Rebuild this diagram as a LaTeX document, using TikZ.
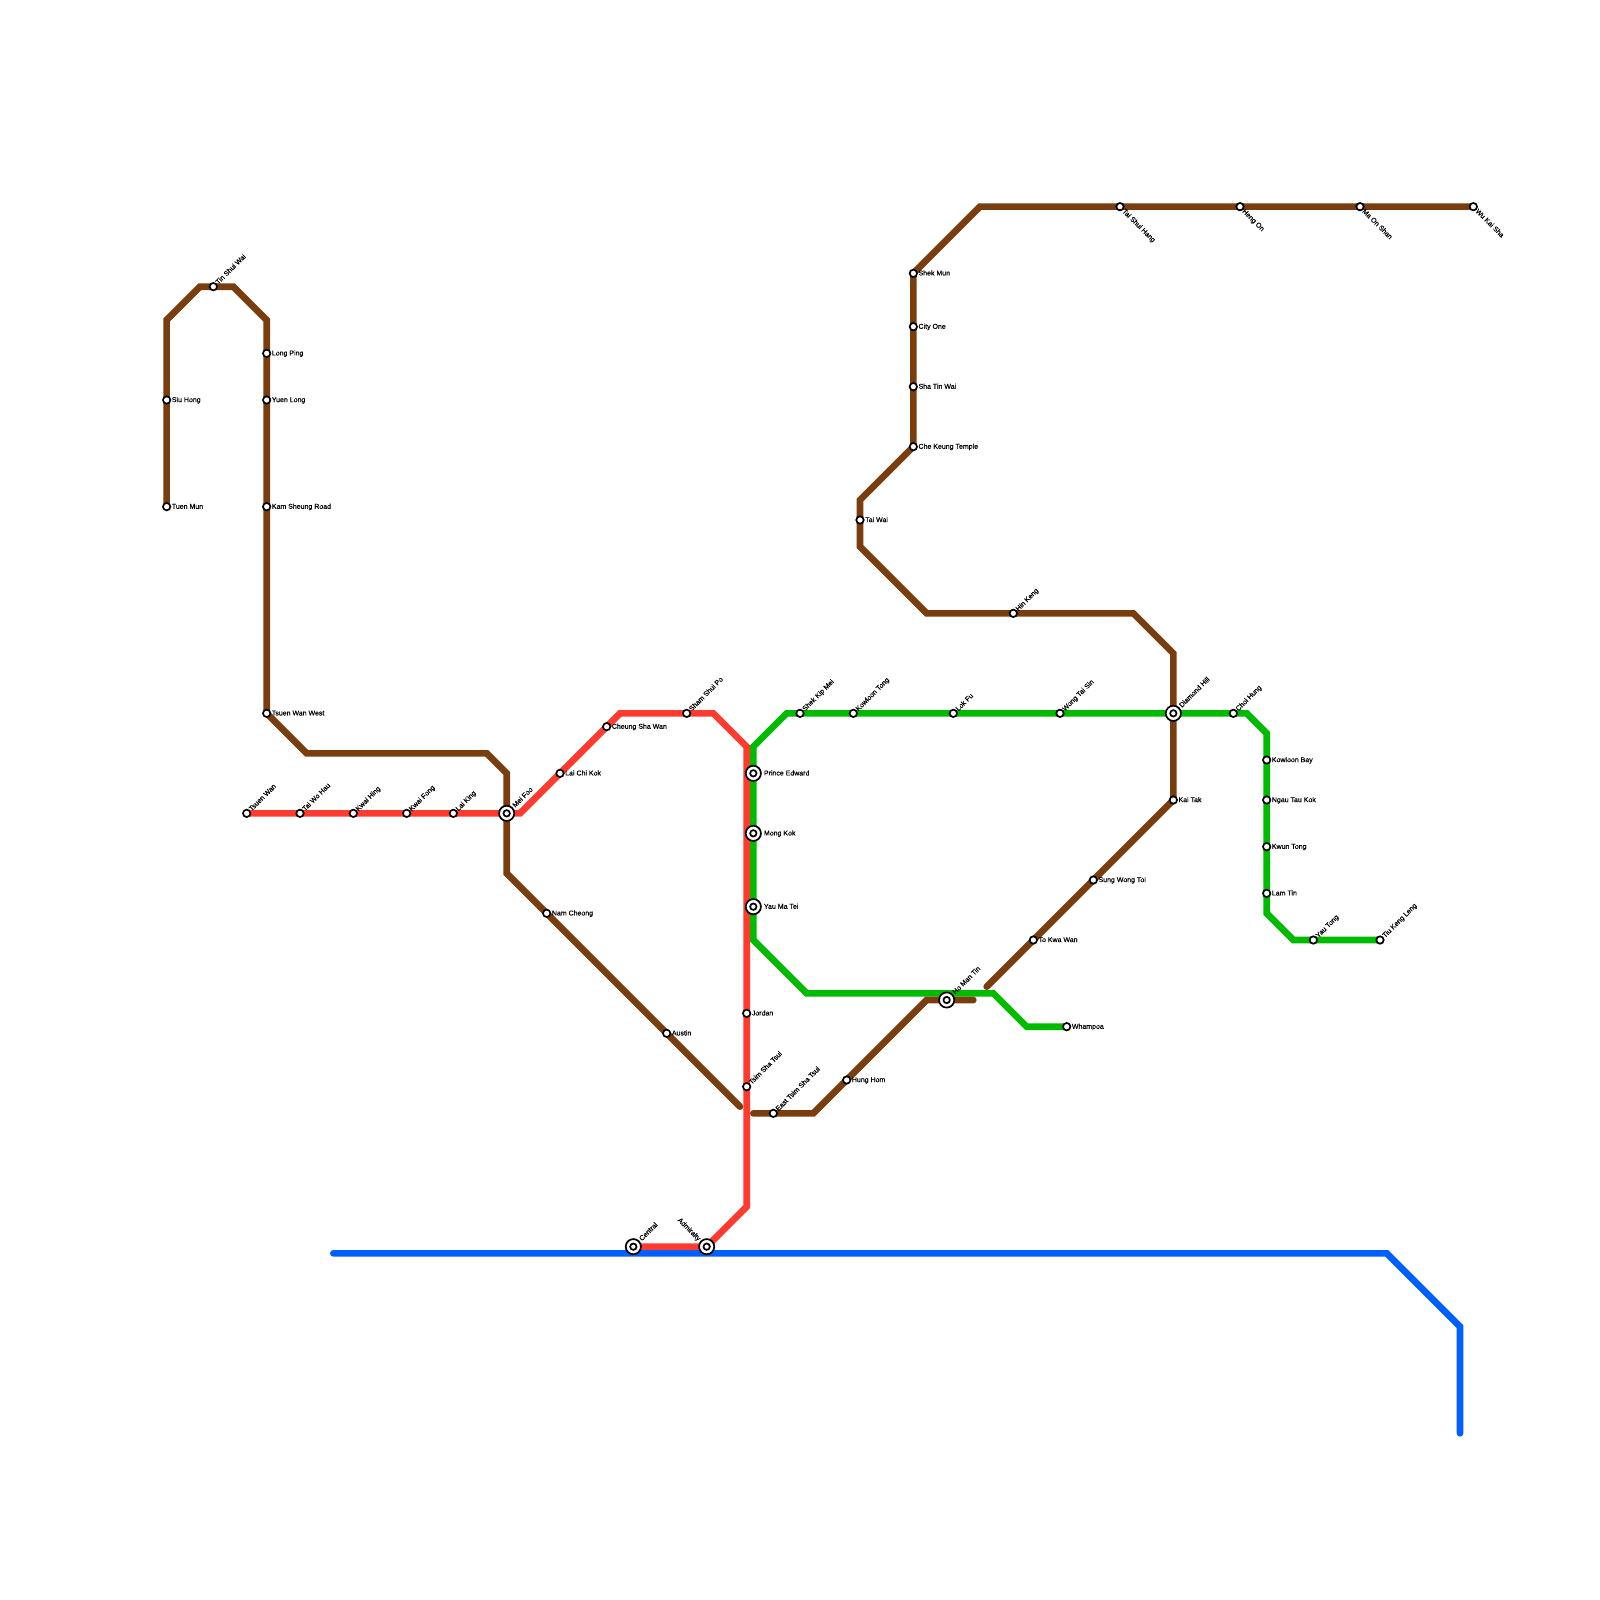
\documentclass[tikz,border=0pt]{standalone}
\usepackage{fontspec}
\setmainfont{Liberation Sans}
\definecolor{brn}{RGB}{122,62,14}
\definecolor{rd}{RGB}{255,59,48}
\definecolor{grn}{RGB}{0,187,0}
\definecolor{blu}{RGB}{0,96,255}
\tikzset{
 metro/.style={line width=3.33pt,line cap=round,line join=miter},
 stn/.style={circle,draw=black,fill=white,line width=0.85pt,minimum size=3.7pt,inner sep=0pt},
 xstn/.style={circle,draw=black,fill=white,line width=0.85pt,minimum size=7.6pt,inner sep=0pt,
   path picture={\draw[black,line width=0.85pt,fill=white] (path picture bounding box.center) circle (1.6pt);}},
 lbl/.style={inner sep=0pt,text height=2.5pt,text depth=0pt,font=\fontsize{3.5}{4}\selectfont\addfontfeatures{FakeBold=0.35},text=black},
 lE/.style={lbl,anchor=west,xshift=2.4pt,yshift=0.2pt},
 lEx/.style={lbl,anchor=west,xshift=5.1pt,yshift=0.2pt},
 lNE/.style={lbl,rotate=45,anchor=west,xshift=2.3pt,yshift=0.1pt},
 lSE/.style={lbl,rotate=-45,anchor=west,xshift=2.3pt,yshift=0.1pt},
 lNEx/.style={lbl,rotate=45,anchor=west,xshift=4.8pt,yshift=0.1pt},
 lNWx/.style={lbl,rotate=-45,anchor=east,xshift=-4.8pt,yshift=0.1pt},
}
\begin{document}
\begin{tikzpicture}[x=3.33333pt,y=-3.33333pt]
\useasboundingbox[fill=white] (0,0) rectangle (240,240);
% station points
\foreach \n/\x/\y in {TM/25/76,SH/25/60,TSW/32/43,LP/40/53,YL/40/60,KSR/40/76,TWW/40/107,MF/76/122,NC/82/137,AU/100/155,
 ETS/116/167,HH/127/162,HMT/142/150,TKW/155/141,SWT/164/132,KT/176/120,DH/176/107,HK/152/92,TW/129/78,CKT/137/67,STW/137/58,
 CO/137/49,SM/137/41,TSH/168/31,HO/186/31,MOS/204/31,WKS/221/31,
 TSW2/37/122,TWH/45/122,KH/53/122,KF/61/122,LK/68/122,LCK/84/116,CSW/91/109,SSP/103/107,JO/112/152,TST/112/163,AD/106/187,CE/95/187,
 PE/113/116,MK/113/125,YMT/113/136,SKM/120/107,KLT/128/107,LF/143/107,WTS/159/107,CH/185/107,KB/190/114,NTK/190/120,KWT/190/127,LT/190/134,YT/197/141,TKL/207/141,WP/160/154}
 {\coordinate (\n) at (\x,\y);}
% bend points
\foreach \n/\x/\y in {b1/25/48,b2/30/43,b3/35/43,b4/40/48,b5/46/113,b6/73/113,b7/76/116,b8/76/131,b9/111/166,
 c1/113/167,c2/122/167,c3/139/150,c4/146/150,d1/148/148,d2/176/98,d3/170/92,d4/139/92,d5/129/82,d6/129/75,d7/147/31,
 r1/78/122,r2/93/107,r3/107/107,r4/112/112,r5/112/181,
 g1/113/112,g2/118/107,g3/187/107,g4/190/110,g5/190/137,g6/194/141,g7/113/141,g8/121/149,g9/149/149,g10/154/154,
 u1/50/188,u2/208/188,u3/219/199,u4/219/215}
 {\coordinate (\n) at (\x,\y);}
% lines
\draw[metro,blu] (u1)--(u2)--(u3)--(u4);
\draw[metro,rd] (TSW2)--(MF)--(r1)--(r2)--(r3)--(r4)--(r5)--(AD)--(CE);
\draw[metro,grn] (DH)--(g3)--(g4)--(g5)--(g6)--(TKL);
\draw[metro,grn] (DH)--(g2)--(g1)--(g7)--(g8)--(g9)--(g10)--(WP);
\draw[metro,brn] (TM)--(b1)--(b2)--(b3)--(b4)--(TWW)--(b5)--(b6)--(b7)--(b8)--(b9);
\draw[metro,brn] (c1)--(c2)--(c3)--(c4);
\draw[metro,brn] (d1)--(KT)--(d2)--(d3)--(d4)--(d5)--(d6)--(CKT)--(SM)--(d7)--(WKS);
% stations
\foreach \n in {TM,SH,TSW,LP,YL,KSR,TWW,NC,AU,ETS,HH,TKW,SWT,KT,HK,TW,CKT,STW,CO,SM,TSH,HO,MOS,WKS,
 TSW2,TWH,KH,KF,LK,LCK,CSW,SSP,JO,TST,SKM,KLT,LF,WTS,CH,KB,NTK,KWT,LT,YT,TKL,WP}
 {\node[stn] (st\n) at (\n) {};}
\foreach \n in {MF,HMT,DH,PE,MK,YMT,AD,CE}
 {\node[xstn] (st\n) at (\n) {};}
% labels
\foreach \n/\t in {TM/Tuen Mun,SH/Siu Hong,LP/Long Ping,YL/Yuen Long,KSR/Kam Sheung Road,TWW/Tsuen Wan West,NC/Nam Cheong,AU/Austin,
 HH/Hung Hom,TKW/To Kwa Wan,SWT/Sung Wong Toi,KT/Kai Tak,TW/Tai Wai,CKT/Che Keung Temple,STW/Sha Tin Wai,CO/City One,SM/Shek Mun,
 LCK/Lai Chi Kok,CSW/Cheung Sha Wan,JO/Jordan,KB/Kowloon Bay,NTK/Ngau Tau Kok,KWT/Kwun Tong,LT/Lam Tin,WP/Whampoa}
 {\node[lE] (lb\n) at (\n) {\t};}
\foreach \n/\t in {PE/Prince Edward,MK/Mong Kok,YMT/Yau Ma Tei}
 {\node[lEx] (lb\n) at (\n) {\t};}
\foreach \n/\t in {TSW/Tin Shui Wai,ETS/East Tsim Sha Tsui,HK/Hin Keng,TSW2/Tsuen Wan,TWH/Tai Wo Hau,KH/Kwai Hing,KF/Kwai Fong,LK/Lai King,
 SSP/Sham Shui Po,TST/Tsim Sha Tsui,SKM/Shek Kip Mei,KLT/Kowloon Tong,LF/Lok Fu,WTS/Wong Tai Sin,CH/Choi Hung,YT/Yau Tong,TKL/Tiu Keng Leng}
 {\node[lNE] (lb\n) at (\n) {\t};}
\foreach \n/\t in {TSH/Tai Shui Hang,HO/Heng On,MOS/Ma On Shan,WKS/Wu Kai Sha}
 {\node[lSE] (lb\n) at (\n) {\t};}
\foreach \n/\t in {MF/Mei Foo,HMT/Ho Man Tin,DH/Diamond Hill,CE/Central}
 {\node[lNEx] (lb\n) at (\n) {\t};}
\node[lNWx] (lbAD) at (AD) {Admiralty};
\end{tikzpicture}
\end{document}
